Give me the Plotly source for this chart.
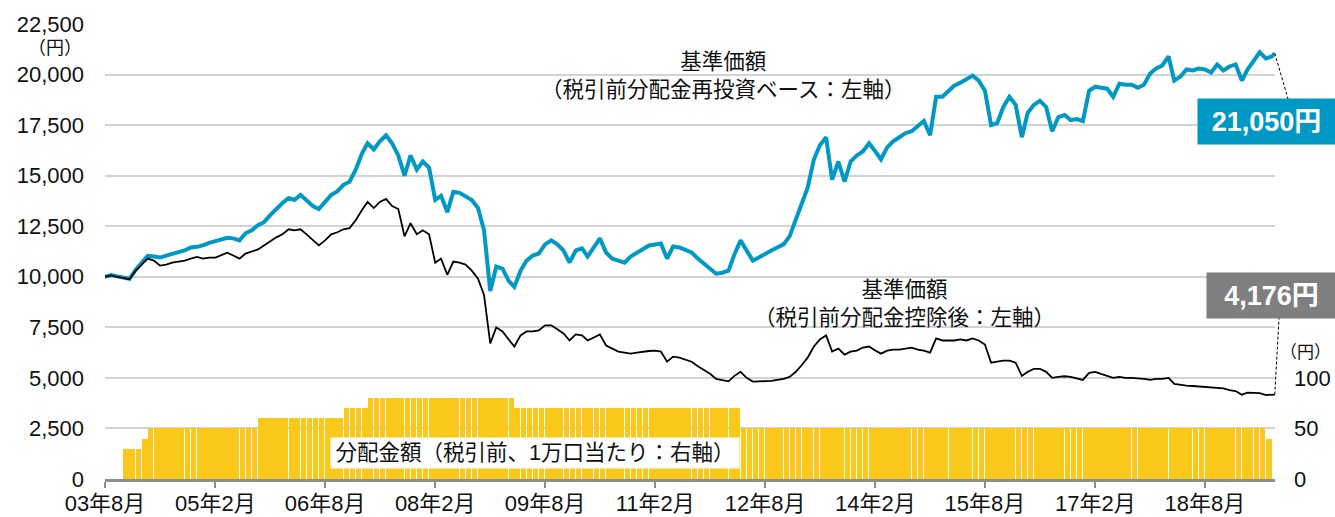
import plotly.graph_objects as go
import pandas as pd

# ---------------- data ----------------
LINE_DATES = list(pd.date_range("2003-08-01", periods=192, freq="MS").strftime("%Y-%m-%d")) + ["2019-07-15"]

NAV_REINVESTED = [
    10000, 10080, 10020, 9950, 9900, 10350, 10700, 11040, 11000, 10950, 11050, 11150,
    11220, 11300, 11450, 11480, 11550, 11680, 11750, 11850, 11930, 11900, 11800, 12150,
    12300, 12550, 12700, 13050, 13350, 13650, 13900, 13800, 14050, 13800, 13500, 13350,
    13700, 14050, 14220, 14550, 14700, 15300, 16100, 16600, 16300, 16700, 17000, 16600,
    16000, 15000, 16000, 15300, 15700, 15400, 13800, 14000, 13200, 14200, 14150, 14000,
    13800, 13400, 12300, 9300, 10500, 10400, 9800, 9500, 10300, 10800, 11050, 11150,
    11600, 11800, 11600, 11300, 10700, 11300, 11400, 11000, 11500, 11900, 11200, 10900,
    10800, 10700, 11000, 11200, 11400, 11550, 11600, 11650, 10900, 11500, 11450, 11350,
    11200, 10900, 10650, 10400, 10150, 10200, 10300, 11100, 11800, 11300, 10800, 10950,
    11150, 11300, 11450, 11600, 12000, 12800, 13600, 14400, 15800, 16500, 16900, 14800,
    15700, 14700, 15700, 16000, 16200, 16600, 16200, 15800, 16400, 16700, 16900, 17100,
    17200, 17450, 17700, 17000, 18900, 18900, 19200, 19450, 19600, 19750, 19950, 19700,
    19200, 17500, 17600, 18400, 18900, 18500, 16900, 18100, 18500, 18700, 18400, 17200,
    17900, 18000, 17750, 17800, 17700, 19200, 19400, 19350, 19300, 18900, 19550, 19500,
    19500, 19350, 19500, 20050, 20300, 20450, 20900, 19700, 19900, 20250, 20200, 20300,
    20250, 20100, 20500, 20200, 20400, 20500, 19700, 20250, 20700, 21100, 20800, 20900,
    21050,
]

NAV = [
    10000, 10070, 10000, 9950, 9880, 10300, 10600, 10900, 10800, 10550, 10600, 10700,
    10750, 10800, 10900, 10980, 10900, 10950, 10950, 11050, 11190, 11050, 10900, 11150,
    11250, 11350, 11550, 11750, 11950, 12100, 12350, 12300, 12350, 12100, 11800, 11550,
    11800, 12100, 12200, 12350, 12400, 12800, 13300, 13700, 13400, 13700, 13850, 13500,
    13350, 12000, 12650, 12100, 12300, 12100, 10700, 10900, 10100, 10750, 10700, 10600,
    10300, 9900, 9100, 6700, 7500, 7300, 6900, 6550, 7100, 7300, 7300, 7350,
    7600, 7600, 7400, 7200, 6850, 7150, 7100, 6850, 7000, 7150, 6600, 6450,
    6300, 6250, 6200, 6250, 6300, 6330, 6350, 6300, 5800, 6050, 6000, 5900,
    5800, 5580, 5400, 5200, 4950, 4900, 4830, 5100, 5300, 5000, 4820, 4830,
    4830, 4850, 4900, 4950, 5050, 5300, 5650, 6000, 6550, 6900, 7100, 6300,
    6450, 6150, 6300, 6350, 6500, 6550, 6350, 6200, 6350, 6400, 6400, 6450,
    6500, 6400, 6350, 6250, 6950, 6850, 6850, 6850, 6900, 6850, 6950, 6850,
    6650, 5750, 5800, 5850, 5850, 5750, 5100, 5300, 5450, 5450, 5300, 5000,
    5050, 5080, 5050, 4980, 4900, 5250, 5300, 5200, 5100, 5000, 5050, 5000,
    5000, 4980, 4950, 4900, 4950, 4950, 5000, 4700, 4650, 4620, 4600, 4570,
    4560, 4540, 4500, 4480, 4400, 4350, 4170, 4270, 4260, 4250, 4150, 4150,
    4176,
]

# monthly distributions (yen per 10,000 units), Nov 2003 - Jun 2019
DIST_DATES = list((pd.date_range("2003-11-01", periods=188, freq="MS") + pd.Timedelta(days=14)).strftime("%Y-%m-%d"))
DIST = [
    30, 30,                                                  # 2003 Nov-Dec
    30, 40, 50, 50, 50, 50, 50, 50, 50, 50, 50, 50,          # 2004
    50, 50, 50, 50, 50, 50, 50, 50, 60, 60, 60, 60,          # 2005
    60, 60, 60, 60, 60, 60, 60, 60, 60, 60, 70, 70,          # 2006
    70, 70, 80, 80, 80, 80, 80, 80, 80, 80, 80, 80,          # 2007
    80, 80, 80, 80, 80, 80, 80, 80, 80, 80, 80, 80,          # 2008
    80, 80, 70, 70, 70, 70, 70, 70, 70, 70, 70, 70,          # 2009
    70, 70, 70, 70, 70, 70, 70, 70, 70, 70, 70, 70,          # 2010
    70, 70, 70, 70, 70, 70, 70, 70, 70, 70, 70, 70,          # 2011
    70, 70, 70, 50, 50, 50, 50, 50, 50, 50, 50, 50,          # 2012
    50, 50, 50, 50, 50, 50, 50, 50, 50, 50, 50, 50,          # 2013
    50, 50, 50, 50, 50, 50, 50, 50, 50, 50, 50, 50,          # 2014
    50, 50, 50, 50, 50, 50, 50, 50, 50, 50, 50, 50,          # 2015
    50, 50, 50, 50, 50, 50, 50, 50, 50, 50, 50, 50,          # 2016
    50, 50, 50, 50, 50, 50, 50, 50, 50, 50, 50, 50,          # 2017
    50, 50, 50, 50, 50, 50, 50, 50, 50, 50, 50, 50,          # 2018
    50, 50, 50, 50, 50, 40,                                  # 2019 Jan-Jun
]

X_TICK_VALS = ["2003-08-01", "2005-02-01", "2006-08-01", "2008-02-01", "2009-08-01", "2011-02-01",
               "2012-08-01", "2014-02-01", "2015-08-01", "2017-02-01", "2018-08-01"]
X_TICK_TEXT = ["03年8月", "05年2月", "06年8月", "08年2月", "09年8月", "11年2月",
               "12年8月", "14年2月", "15年8月", "17年2月", "18年8月"]
LEFT_TICKS = [0, 2500, 5000, 7500, 10000, 12500, 15000, 17500, 20000, 22500]
RIGHT_TICKS = [0, 50, 100]

# ---------------- style ----------------
BLUE = "#0099C6"
YELLOW = "#F9C81A"
GRAY_BOX = "#7F7F7F"
FONT = "Liberation Sans, Arial, Noto Sans CJK JP, sans-serif"
X_START, X_END = "2003-08-01", "2019-07-16"
W, H = 1335, 517
ML, MR, MT, MB = 105, 60, 24, 38
PW, PH = W - ML - MR, H - MT - MB


def px_x(px):
    return (px - ML) / PW


def px_y(py):
    return (H - MB - py) / PH


def date_frac(d):
    s, e = pd.Timestamp(X_START), pd.Timestamp(X_END)
    return (pd.Timestamp(d) - s) / (e - s)


fig = go.Figure()
fig.add_trace(go.Bar(
    x=DIST_DATES, y=DIST, yaxis="y", width=28 * 86400000,
    marker=dict(color=YELLOW, line=dict(width=0)), hoverinfo="skip",
))
fig.add_trace(go.Scatter(
    x=LINE_DATES, y=NAV_REINVESTED, yaxis="y2", mode="lines",
    line=dict(color=BLUE, width=4), hoverinfo="skip",
))
fig.add_trace(go.Scatter(
    x=LINE_DATES, y=NAV, yaxis="y2", mode="lines",
    line=dict(color="#000000", width=1.8), hoverinfo="skip",
))

ymax = LEFT_TICKS[-1]


def ann(px, py, text, size, xanchor="center", **kw):
    return dict(x=px_x(px), y=px_y(py), xref="paper", yref="paper", showarrow=False,
                xanchor=xanchor, yanchor="middle", text=text,
                font=dict(size=size, color=kw.pop("color", "#111")), **kw)


annotations = [
    ann(723, 75.5, "基準価額<br>（税引前分配金再投資ベース：左軸）", 21.5),
    ann(904, 304, "基準価額<br>（税引前分配金控除後：左軸）", 21.5),
    ann(535, 453, "分配金額（税引前、1万口当たり：右軸）", 21.5,
        bgcolor="white", width=408, height=30, borderpad=0),
    ann(1266.5, 121.5, f"<b>{NAV_REINVESTED[-1]:,}円</b>", 27, color="white",
        bgcolor=BLUE, width=137, height=45, borderpad=0),
    ann(1271, 295.5, f"<b>{NAV[-1]:,}円</b>", 27, color="white",
        bgcolor=GRAY_BOX, width=129, height=45, borderpad=0),
    ann(84, 48, "（円）", 18, xanchor="right"),
    ann(1333, 352, "（円）", 17, xanchor="right"),
]

last = LINE_DATES[-1]
shapes = [
    dict(type="line", xref="paper", yref="paper",
         x0=date_frac(last), y0=NAV_REINVESTED[-1] / ymax, x1=px_x(1288), y1=px_y(99),
         line=dict(color="#000", width=1, dash="3px,2px")),
    dict(type="line", xref="paper", yref="paper",
         x0=date_frac(last), y0=NAV[-1] / ymax, x1=px_x(1279), y1=px_y(318),
         line=dict(color="#000", width=1, dash="3px,2px")),
]

fig.update_layout(
    width=W, height=H,
    margin=dict(l=ML, r=MR, t=MT, b=MB, pad=0, autoexpand=False),
    paper_bgcolor="white", plot_bgcolor="white",
    font=dict(family=FONT, size=22, color="#111"),
    showlegend=False,
    bargap=0,
    xaxis=dict(
        type="date", range=[X_START, X_END],
        tickmode="array", tickvals=X_TICK_VALS, ticktext=X_TICK_TEXT,
        ticks="outside", ticklen=6, tickwidth=2, tickcolor="#8c8c8c",
        showline=True, linecolor="#8c8c8c", linewidth=2.5,
        showgrid=False, zeroline=False, tickfont=dict(size=22),
        ticklabelstandoff=-3,
    ),
    yaxis=dict(
        side="right", range=[0, 450], tickmode="array", tickvals=RIGHT_TICKS,
        ticktext=[str(v) for v in RIGHT_TICKS],
        showgrid=False, zeroline=False, showline=False, ticks="",
        tickfont=dict(size=22), ticklabelstandoff=18,
    ),
    yaxis2=dict(
        side="left", overlaying="y", range=[0, ymax], tickmode="array",
        tickvals=LEFT_TICKS, ticktext=[f"{v:,}" for v in LEFT_TICKS],
        showgrid=True, gridcolor="#d3d3d3", gridwidth=1.5,
        zeroline=False, showline=False, ticks="",
        tickfont=dict(size=22), ticklabelstandoff=20,
    ),
    annotations=annotations,
    shapes=shapes,
)

fig.write_html(
    "out.html",
    config={"displayModeBar": False},
    post_script="document.body.style.margin='0';document.body.style.overflow='hidden';",
)
